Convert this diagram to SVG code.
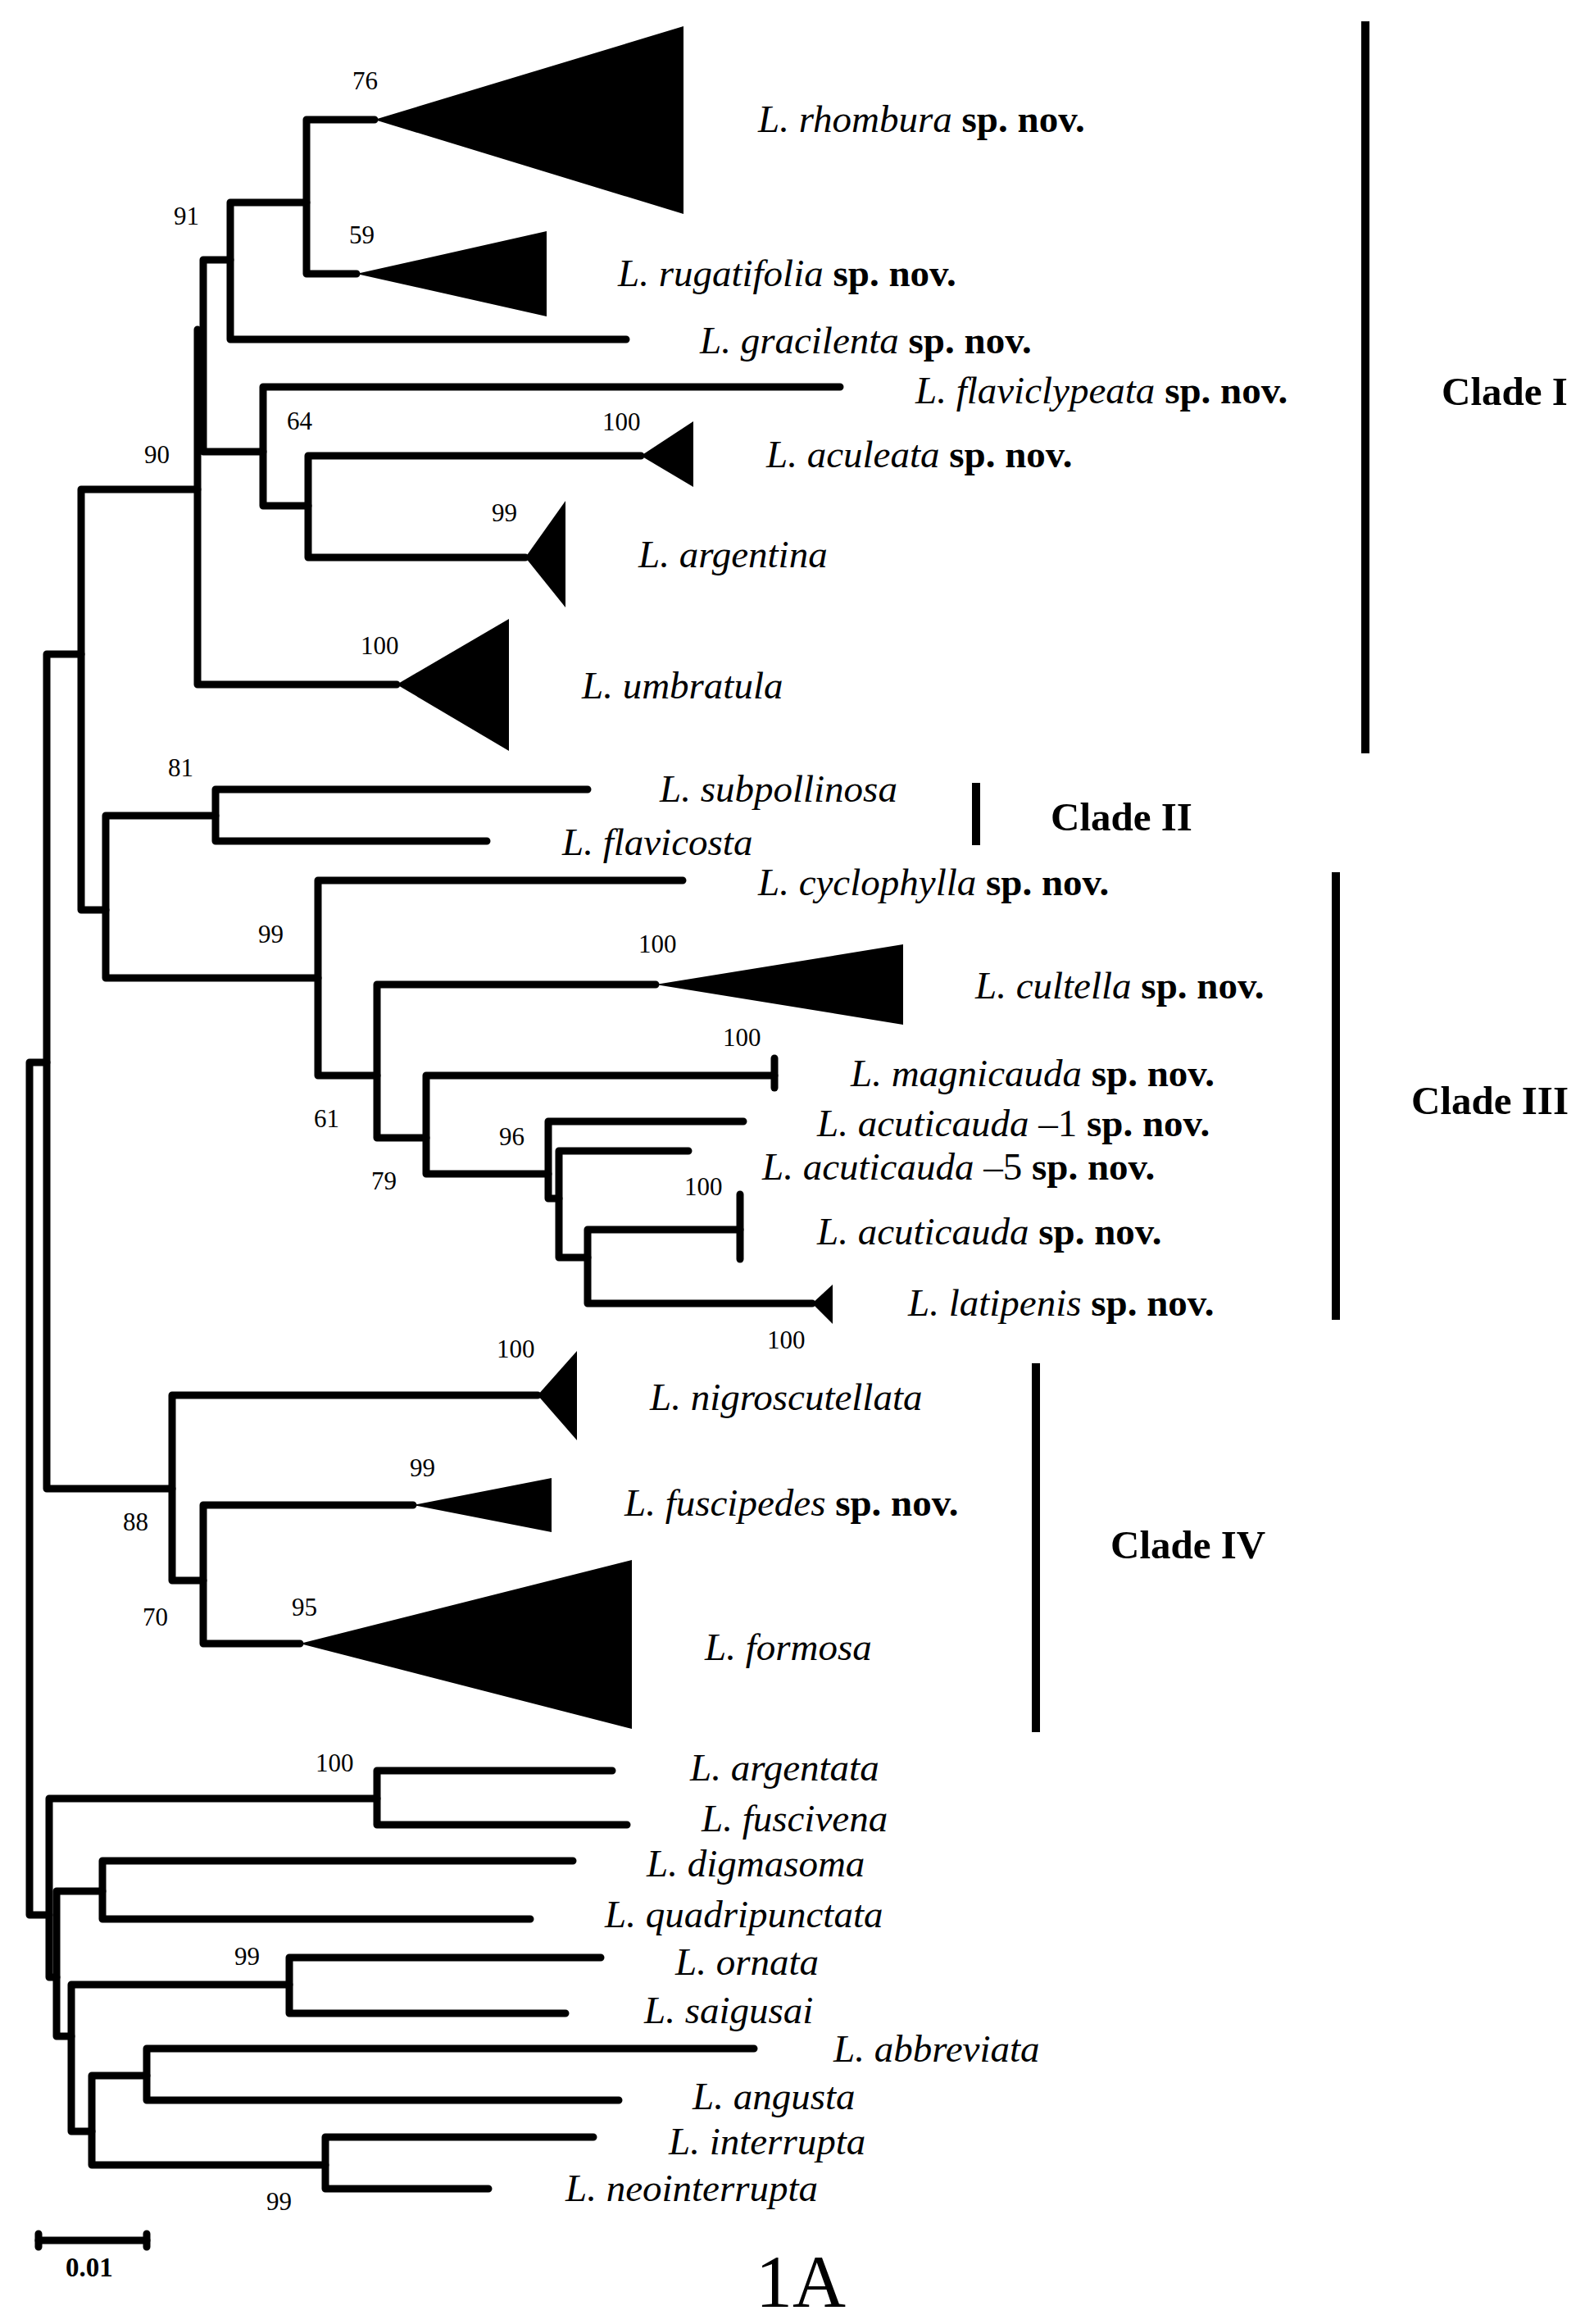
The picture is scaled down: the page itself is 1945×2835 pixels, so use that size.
<svg xmlns="http://www.w3.org/2000/svg" width="1945" height="2835" viewBox="0 0 1945 2835">
<style>
.br{fill:none;stroke:#000;stroke-width:9;stroke-linecap:round;stroke-linejoin:round}
.tri{fill:#000;stroke:none}
.bar{stroke:#000;stroke-width:10;fill:none}
.sp{font-family:"Liberation Serif","Times New Roman",serif;font-size:47px;font-style:italic;fill:#000}
.b{font-style:normal;font-weight:bold}
.r{font-style:normal}
.num{font-family:"Liberation Serif","Times New Roman",serif;font-size:31px;fill:#000}
.clade{font-family:"Liberation Serif","Times New Roman",serif;font-size:49px;font-weight:bold;fill:#000}
</style>
<rect width="1945" height="2835" fill="#fff"/>
<g id="connectors">
<path class="br" d="M99,798 H57 V1816 H210"/>
<path class="br" d="M241,597 H99 V1110 H129"/>
<path class="br" d="M57,1296 H36 V2336 H60"/>
<path class="br" d="M241,402 V835 H484"/>
<path class="br" d="M281,317 H248 V551 H321"/>
<path class="br" d="M374,247 H281 V414 H764"/>
<path class="br" d="M457,146 H374 V334 H435"/>
<path class="br" d="M1025,472 H321 V617 H376"/>
<path class="br" d="M782,556 H376 V680 H641"/>
<path class="br" d="M263,995 H129 V1193 H388"/>
<path class="br" d="M717,963 H263 V1026 H594"/>
<path class="br" d="M833,1074 H388 V1312 H460"/>
<path class="br" d="M800,1201 H460 V1388 H520"/>
<path class="br" d="M945,1312 H520 V1432 H669"/>
<path class="br" d="M945,1291 V1327"/>
<path class="br" d="M907,1368 H669 V1462 H682"/>
<path class="br" d="M840,1404 H682 V1534 H717"/>
<path class="br" d="M903,1500 H717 V1590 H991"/>
<path class="br" d="M903,1457 V1536"/>
<path class="br" d="M656,1702 H210 V1928 H248"/>
<path class="br" d="M504,1836 H248 V2005 H366"/>
<path class="br" d="M460,2194 H60 V2412 H69"/>
<path class="br" d="M747,2160 H460 V2226 H765"/>
<path class="br" d="M125,2307 H69 V2484 H87"/>
<path class="br" d="M699,2270 H125 V2341 H647"/>
<path class="br" d="M353,2421 H87 V2600 H112"/>
<path class="br" d="M733,2388 H353 V2456 H690"/>
<path class="br" d="M179,2532 H112 V2641 H397"/>
<path class="br" d="M920,2499 H179 V2562 H755"/>
<path class="br" d="M724,2607 H397 V2670 H596"/>
</g>
<g id="support">
<text class="num" x="430" y="109">76</text>
<text class="num" x="426" y="297">59</text>
<text class="num" x="212" y="274">91</text>
<text class="num" x="176" y="565">90</text>
<text class="num" x="350" y="524">64</text>
<text class="num" x="735" y="525">100</text>
<text class="num" x="600" y="636">99</text>
<text class="num" x="440" y="798">100</text>
<text class="num" x="205" y="947">81</text>
<text class="num" x="315" y="1150">99</text>
<text class="num" x="779" y="1162">100</text>
<text class="num" x="882" y="1276">100</text>
<text class="num" x="383" y="1375">61</text>
<text class="num" x="453" y="1451">79</text>
<text class="num" x="609" y="1397">96</text>
<text class="num" x="835" y="1458">100</text>
<text class="num" x="936" y="1645">100</text>
<text class="num" x="606" y="1656">100</text>
<text class="num" x="500" y="1801">99</text>
<text class="num" x="150" y="1867">88</text>
<text class="num" x="174" y="1983">70</text>
<text class="num" x="356" y="1971">95</text>
<text class="num" x="385" y="2161">100</text>
<text class="num" x="286" y="2397">99</text>
<text class="num" x="325" y="2696">99</text>
</g>
<g id="n-rhombura"><polygon class="tri" points="457,146 834,32 834,261"/><text class="sp" x="925" y="161">L. rhombura <tspan class="b">sp. nov.</tspan></text></g>
<g id="n-rugatifolia"><polygon class="tri" points="435,334 667,282 667,386"/><text class="sp" x="754" y="349">L. rugatifolia <tspan class="b">sp. nov.</tspan></text></g>
<g id="n-gracilenta"><text class="sp" x="854" y="431">L. gracilenta <tspan class="b">sp. nov.</tspan></text></g>
<g id="n-flaviclypeata"><text class="sp" x="1117" y="492">L. flaviclypeata <tspan class="b">sp. nov.</tspan></text></g>
<g id="n-aculeata"><polygon class="tri" points="782,556 846,514 846,594"/><text class="sp" x="935" y="570">L. aculeata <tspan class="b">sp. nov.</tspan></text></g>
<g id="n-argentina"><polygon class="tri" points="641,680 690,611 690,741"/><text class="sp" x="779" y="692">L. argentina</text></g>
<g id="n-umbratula"><polygon class="tri" points="484,835 621,755 621,916"/><text class="sp" x="710" y="852">L. umbratula</text></g>
<g id="n-subpollinosa"><text class="sp" x="805" y="978">L. subpollinosa</text></g>
<g id="n-flavicosta"><text class="sp" x="686" y="1043">L. flavicosta</text></g>
<g id="n-cyclophylla"><text class="sp" x="925" y="1092">L. cyclophylla <tspan class="b">sp. nov.</tspan></text></g>
<g id="n-cultella"><polygon class="tri" points="800,1201 1102,1152 1102,1250"/><text class="sp" x="1190" y="1218">L. cultella <tspan class="b">sp. nov.</tspan></text></g>
<g id="n-magnicauda"><text class="sp" x="1038" y="1325">L. magnicauda <tspan class="b">sp. nov.</tspan></text></g>
<g id="n-acuticauda1"><text class="sp" x="997" y="1386">L. acuticauda <tspan class="r">–1</tspan> <tspan class="b">sp. nov.</tspan></text></g>
<g id="n-acuticauda5"><text class="sp" x="930" y="1439">L. acuticauda <tspan class="r">–5</tspan> <tspan class="b">sp. nov.</tspan></text></g>
<g id="n-acuticauda"><text class="sp" x="997" y="1518">L. acuticauda <tspan class="b">sp. nov.</tspan></text></g>
<g id="n-latipenis"><polygon class="tri" points="991,1590 1016,1567 1016,1615"/><text class="sp" x="1108" y="1605">L. latipenis <tspan class="b">sp. nov.</tspan></text></g>
<g id="n-nigroscutellata"><polygon class="tri" points="656,1702 704,1648 704,1757"/><text class="sp" x="793" y="1720">L. nigroscutellata</text></g>
<g id="n-fuscipedes"><polygon class="tri" points="504,1836 673,1803 673,1869"/><text class="sp" x="762" y="1849">L. fuscipedes <tspan class="b">sp. nov.</tspan></text></g>
<g id="n-formosa"><polygon class="tri" points="366,2005 771,1903 771,2109"/><text class="sp" x="860" y="2025">L. formosa</text></g>
<g id="n-argentata"><text class="sp" x="842" y="2172">L. argentata</text></g>
<g id="n-fuscivena"><text class="sp" x="856" y="2234">L. fuscivena</text></g>
<g id="n-digmasoma"><text class="sp" x="789" y="2289">L. digmasoma</text></g>
<g id="n-quadripunctata"><text class="sp" x="738" y="2351">L. quadripunctata</text></g>
<g id="n-ornata"><text class="sp" x="824" y="2409">L. ornata</text></g>
<g id="n-saigusai"><text class="sp" x="786" y="2468">L. saigusai</text></g>
<g id="n-abbreviata"><text class="sp" x="1017" y="2515">L. abbreviata</text></g>
<g id="n-angusta"><text class="sp" x="845" y="2573">L. angusta</text></g>
<g id="n-interrupta"><text class="sp" x="816" y="2628">L. interrupta</text></g>
<g id="n-neointerrupta"><text class="sp" x="690" y="2685">L. neointerrupta</text></g>
<g id="clade-I"><line class="bar" x1="1666" y1="26" x2="1666" y2="919"/><text class="clade" x="1759" y="494">Clade I</text></g>
<g id="clade-II"><line class="bar" x1="1191" y1="955" x2="1191" y2="1031"/><text class="clade" x="1282" y="1013">Clade II</text></g>
<g id="clade-III"><line class="bar" x1="1630" y1="1064" x2="1630" y2="1610"/><text class="clade" x="1722" y="1359">Clade III</text></g>
<g id="clade-IV"><line class="bar" x1="1264" y1="1663" x2="1264" y2="2113"/><text class="clade" x="1355" y="1901">Clade IV</text></g>
<g id="scale">
<path class="br" d="M47,2733 H179"/>
<path class="br" stroke-width="7" d="M47,2725 V2741 M179,2725 V2741"/>
<text x="80" y="2777" style="font-family:'Liberation Serif',serif;font-size:33px;font-weight:bold">0.01</text>
</g>
<text x="922" y="2814" style="font-family:'Liberation Serif',serif;font-size:90px">1A</text>
</svg>
